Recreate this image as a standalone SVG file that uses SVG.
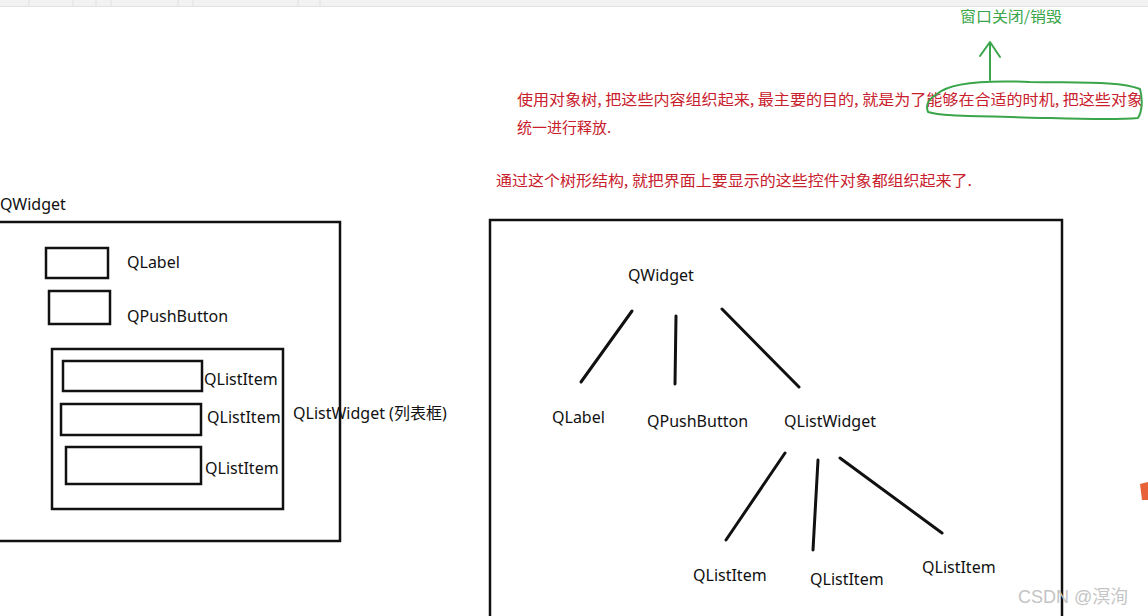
<svg xmlns="http://www.w3.org/2000/svg" width="1148" height="616" viewBox="0 0 1148 616">
<style>
.box{fill:none;stroke:#111;stroke-width:2.5}
.lbl{font-family:"Noto Sans","Open Sans","Noto Sans CJK SC",sans-serif;font-size:16px;fill:#111}
.red{font-family:"Noto Sans CJK SC","Noto Sans",sans-serif;font-size:15px;fill:#c8202c}
.edge{stroke:#111;stroke-width:3;stroke-linecap:round;fill:none}
.green{stroke:#3aa54a;stroke-width:2;fill:none;stroke-linecap:round;stroke-linejoin:round}
</style>
<rect width="1148" height="616" fill="#fff"/>
<rect x="0" y="0" width="1148" height="6" fill="#f2f2f2"/>
<line x1="0" y1="6.5" x2="1148" y2="6.5" stroke="#e2e2e2"/>
<g stroke="#e0e0e0"><line x1="29" y1="0" x2="29" y2="6"/><line x1="73" y1="0" x2="73" y2="6"/><line x1="96" y1="0" x2="96" y2="6"/><line x1="111" y1="0" x2="111" y2="6"/><line x1="178" y1="0" x2="178" y2="6"/><line x1="193" y1="0" x2="193" y2="6"/><line x1="298" y1="0" x2="298" y2="6"/><line x1="320" y1="0" x2="320" y2="6"/></g>

<g id="note-top">
<text class="red" x="517" y="105" textLength="626" lengthAdjust="spacingAndGlyphs">使用对象树, 把这些内容组织起来, 最主要的目的, 就是为了能够在合适的时机, 把这些对象</text>
<text class="red" x="517" y="133">统一进行释放.</text>
<text class="red" x="496" y="186" textLength="476" lengthAdjust="spacingAndGlyphs">通过这个树形结构, 就把界面上要显示的这些控件对象都组织起来了.</text>
</g>

<g id="green-annotation">
<text x="960" y="22" font-family="Noto Sans CJK SC,sans-serif" font-size="15" fill="#3aa54a" textLength="102" lengthAdjust="spacingAndGlyphs">窗口关闭/销毁</text>
<path class="green" d="M990 80 L990 43 M980 56 L990 42 L1000 57"/>
<path class="green" d="M937 94 C950 82 985 80 1030 82 C1080 83 1120 81 1140 89 C1143 100 1142 112 1138 118 C1110 121 1060 118 1010 117 C970 116 940 116 928 112 C925 104 929 99 937 94"/>
</g>

<g id="left-qwidget">
<text class="lbl" x="0" y="210">QWidget</text>
<rect class="box" x="-5" y="222" width="345" height="319"/>
</g>
<g id="left-qlabel">
<rect class="box" x="46" y="248" width="62" height="30"/>
<text class="lbl" x="127" y="268">QLabel</text>
</g>
<g id="left-qpushbutton">
<rect class="box" x="49" y="291" width="61" height="33"/>
<text class="lbl" x="127" y="322">QPushButton</text>
</g>
<g id="left-qlistwidget">
<rect class="box" x="52" y="349" width="231" height="160"/>
<text class="lbl" x="293" y="419">QListWidget (列表框)</text>
</g>
<g id="left-item1">
<rect class="box" x="63" y="361" width="139" height="30"/>
<text class="lbl" x="204" y="385">QListItem</text>
</g>
<g id="left-item2">
<rect class="box" x="61" y="404" width="140" height="31"/>
<text class="lbl" x="207" y="423">QListItem</text>
</g>
<g id="left-item3">
<rect class="box" x="66" y="447" width="135" height="37"/>
<text class="lbl" x="205" y="474">QListItem</text>
</g>

<g id="right-frame">
<rect class="box" x="490" y="220" width="572" height="410"/>
</g>
<g id="t-qwidget"><text class="lbl" x="628" y="281">QWidget</text></g>
<g id="t-qlabel"><text class="lbl" x="552" y="423">QLabel</text></g>
<g id="t-qpushbutton"><text class="lbl" x="647" y="427">QPushButton</text></g>
<g id="t-qlistwidget"><text class="lbl" x="784" y="427">QListWidget</text></g>
<g id="t-item1"><text class="lbl" x="693" y="581">QListItem</text></g>
<g id="t-item2"><text class="lbl" x="810" y="585">QListItem</text></g>
<g id="t-item3"><text class="lbl" x="922" y="573">QListItem</text></g>

<g id="connectors">
<line class="edge" x1="632" y1="311" x2="581" y2="382"/>
<line class="edge" x1="676" y1="316" x2="675" y2="384"/>
<line class="edge" x1="722" y1="309" x2="799" y2="387"/>
<line class="edge" x1="785" y1="453" x2="726" y2="540"/>
<line class="edge" x1="818" y1="460" x2="813" y2="550"/>
<line class="edge" x1="840" y1="458" x2="942" y2="533"/>
</g>

<g id="decor">
<path d="M1140 484 L1148 482 L1148 500 L1142 500 Z" fill="#e8633a"/>
<text x="1018" y="603" font-family="Liberation Sans,Noto Sans CJK SC,sans-serif" font-size="18" fill="#c4c4c4">CSDN @溟洵</text>
</g>
</svg>
